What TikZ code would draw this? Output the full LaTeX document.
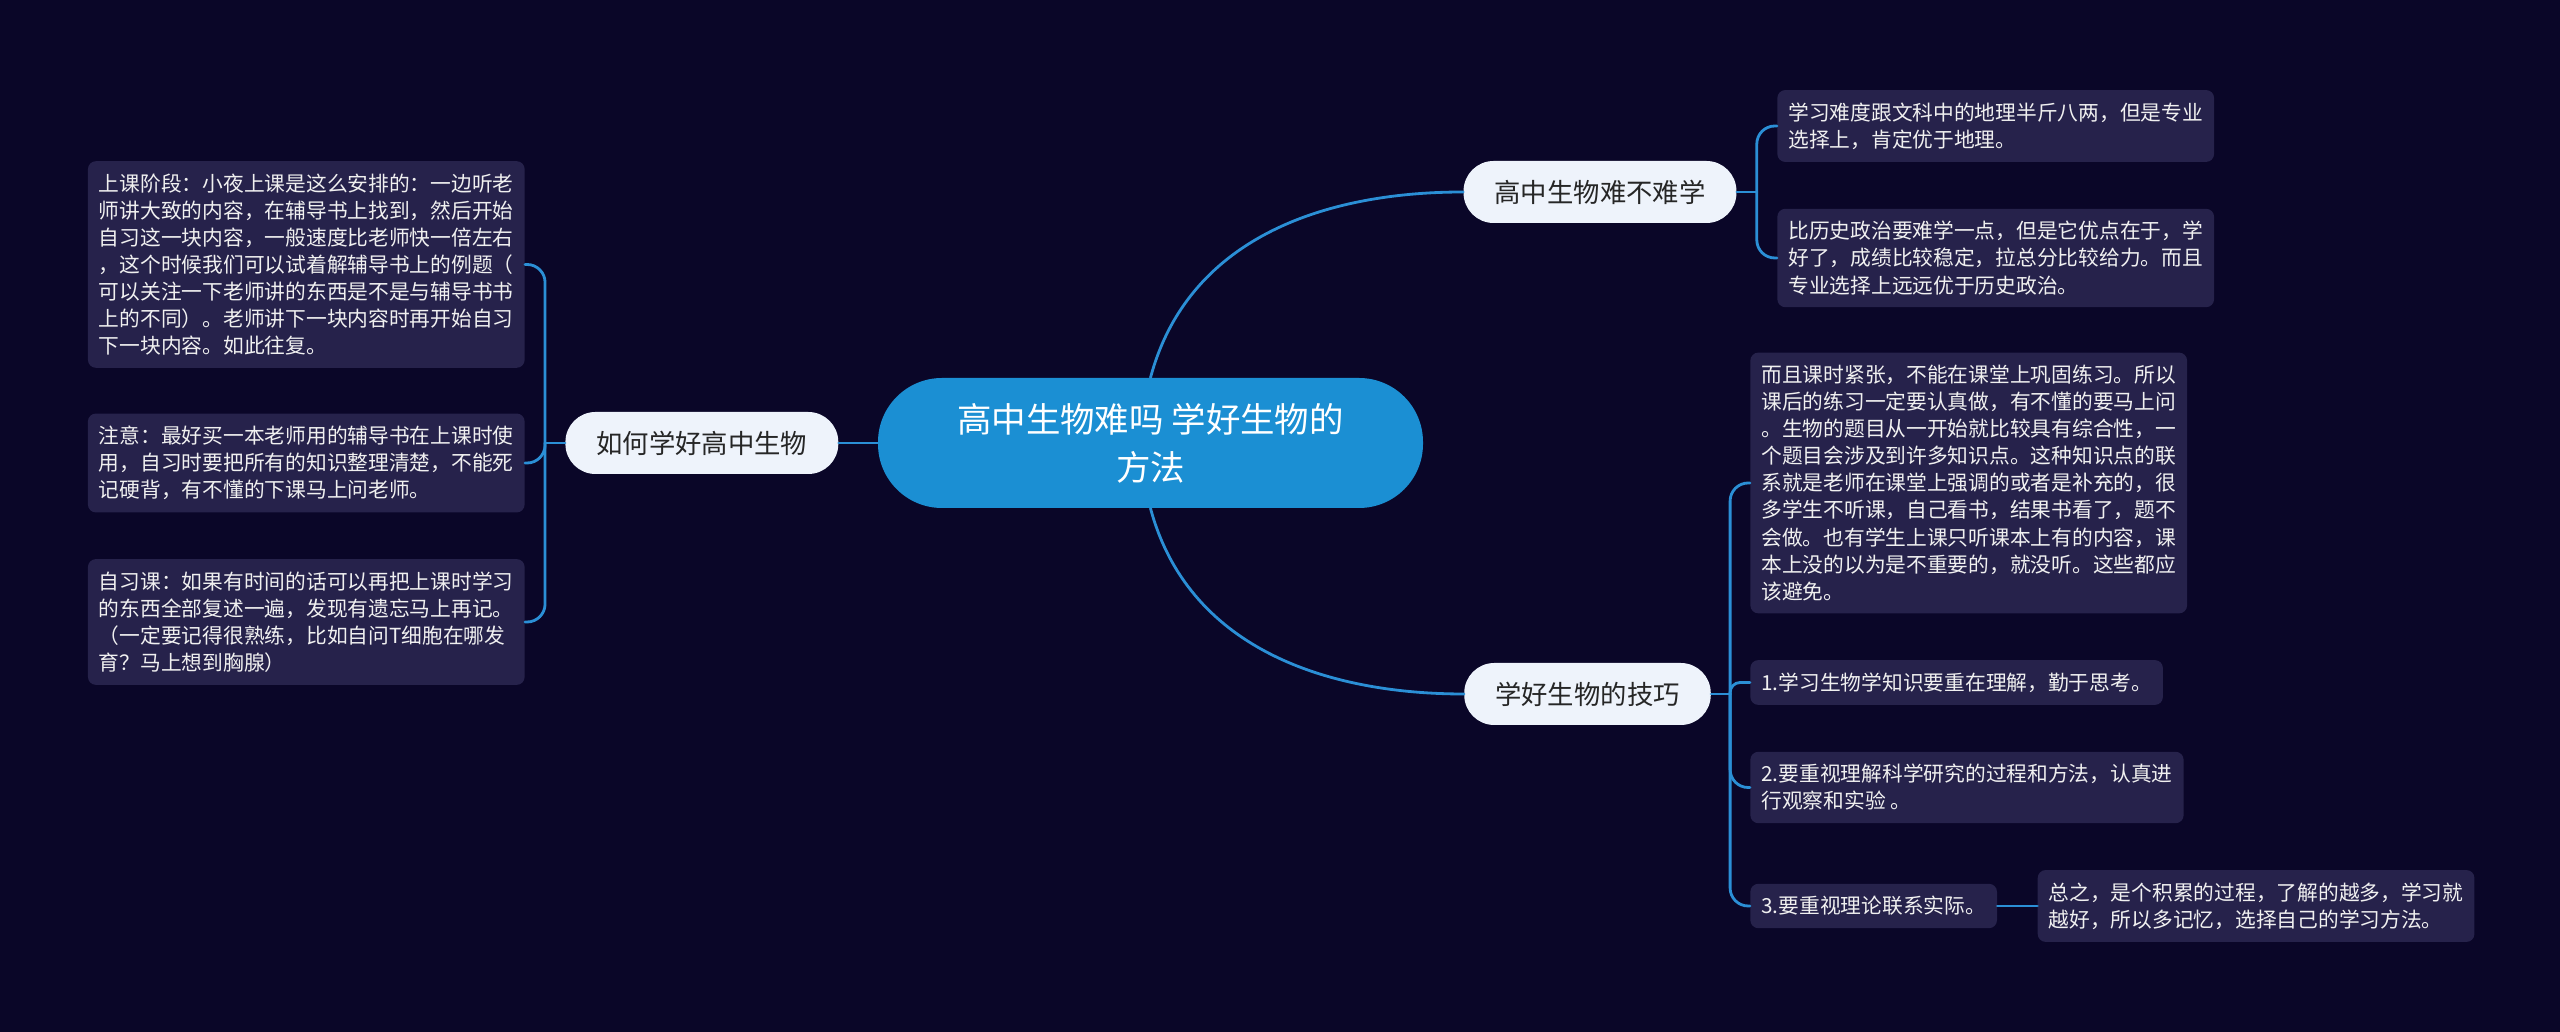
\documentclass[tikz,border=0pt]{standalone}
\usepackage{fontspec}
\setmainfont{Noto Sans CJK SC}
\usepackage{tikz}
\usetikzlibrary{positioning}
\definecolor{mapbg}{HTML}{0A0628}
\definecolor{mapblue}{HTML}{2B8FD6}
\definecolor{topicblue}{HTML}{1B8FD3}
\definecolor{subfill}{HTML}{EEF3FB}
\definecolor{leaffill}{HTML}{26224B}
\tikzset{
    every edge/.style={draw=mapblue,line width=1.6pt,line cap=round},
    elbow/.style={rounded corners=#1,to path={|- (\tikztotarget)}},
    elbow/.default=0.36cm,
    topic/.style={fill=topicblue,text=white,rounded corners=1.28cm,minimum width=10.9cm,minimum height=2.6cm,align=center,font=\fontsize{19.6pt}{27.3pt}\selectfont},
    subtopic/.style={fill=subfill,text=black!85,rounded corners=0.6cm,minimum height=1.24cm,inner xsep=0.62cm,font=\fontsize{15pt}{18pt}\selectfont},
    leafbox/.style={fill=leaffill,text=white!94!black,rounded corners=0.16cm,inner xsep=0.22cm,inner ysep=0.25cm,align=left,font=\fontsize{11.8pt}{15.4pt}\selectfont},
}
\begin{document}
\begin{tikzpicture}
    \fill[mapbg] (0,0) rectangle (51.2,20.64);

    \node[topic] (root) at (23.01,11.78) {高中生物难吗 学好生物的\\方法};
    \node[subtopic,left=0.78cm of root] (how) {如何学好高中生物};
    \node[subtopic] (hard) at (32.0,16.8) {高中生物难不难学};
    \node[subtopic] (tips) at (31.75,6.76) {学好生物的技巧};

    \coordinate (jhow) at ([xshift=-0.4cm]how.west);
    \coordinate (jhard) at ([xshift=0.4cm]hard.east);
    \coordinate (jtips) at ([xshift=0.38cm]tips.east);

    % left side
    \node[leafbox,anchor=east] (how1) at (10.5,15.35) {上课阶段：小夜上课是这么安排的：一边听老\\
        师讲大致的内容，在辅导书上找到，然后开始\\
        自习这一块内容，一般速度比老师快一倍左右\\
        ，这个时候我们可以试着解辅导书上的例题（\\
        可以关注一下老师讲的东西是不是与辅导书书\\
        上的不同）。老师讲下一块内容时再开始自习\\
        下一块内容。如此往复。};
    \node[leafbox,anchor=east] (how2) at (10.5,11.38) {注意：最好买一本老师用的辅导书在上课时使\\
        用，自习时要把所有的知识整理清楚，不能死\\
        记硬背，有不懂的下课马上问老师。};
    \node[leafbox,anchor=east] (how3) at (10.5,8.2) {自习课：如果有时间的话可以再把上课时学习\\
        的东西全部复述一遍，发现有遗忘马上再记。\\
        （一定要记得很熟练，比如自问T细胞在哪发\\
        育？马上想到胸腺）};

    % right side, top
    \node[leafbox,anchor=west] (hard1) at (35.54,18.12) {学习难度跟文科中的地理半斤八两，但是专业\\
        选择上，肯定优于地理。};
    \node[leafbox,anchor=west] (hard2) at (35.54,15.48) {比历史政治要难学一点，但是它优点在于，学\\
        好了，成绩比较稳定，拉总分比较给力。而且\\
        专业选择上远远优于历史政治。};

    % right side, bottom
    \node[leafbox,anchor=west] (tips0) at (35.0,10.98) {而且课时紧张，不能在课堂上巩固练习。所以\\
        课后的练习一定要认真做，有不懂的要马上问\\
        。生物的题目从一开始就比较具有综合性，一\\
        个题目会涉及到许多知识点。这种知识点的联\\
        系就是老师在课堂上强调的或者是补充的，很\\
        多学生不听课，自己看书，结果书看了，题不\\
        会做。也有学生上课只听课本上有的内容，课\\
        本上没的以为是不重要的，就没听。这些都应\\
        该避免。};
    \node[leafbox,anchor=west] (tips1) at (35.0,6.99) {1.学习生物学知识要重在理解，勤于思考。};
    \node[leafbox,anchor=west] (tips2) at (35.0,4.89) {2.要重视理解科学研究的过程和方法，认真进\\
        行观察和实验 。};
    \node[leafbox,anchor=west] (tips3) at (35.0,2.52) {3.要重视理论联系实际。};
    \node[leafbox,right=0.8cm of tips3] (tips4) {总之，是个积累的过程，了解的越多，学习就\\
        越好，所以多记忆，选择自己的学习方法。};

    \path
    (root.west) edge (how.east)
    (how.west) edge (jhow)
    (jhow) edge[elbow] (how1.east)
    (jhow) edge[elbow] (how2.east)
    (jhow) edge[elbow] (how3.east)
    (root.north) edge[out=75,in=180] (hard.west)
    (hard.east) edge (jhard)
    (jhard) edge[elbow] (hard1.west)
    (jhard) edge[elbow] (hard2.west)
    (root.south) edge[out=-75,in=180] (tips.west)
    (tips.east) edge (jtips)
    (jtips) edge[elbow] (tips0.west)
    (jtips) edge[elbow=0.2cm] (tips1.west)
    (jtips) edge[elbow] (tips2.west)
    (jtips) edge[elbow] (tips3.west)
    (tips3.east) edge (tips4.west);
\end{tikzpicture}
\end{document}
